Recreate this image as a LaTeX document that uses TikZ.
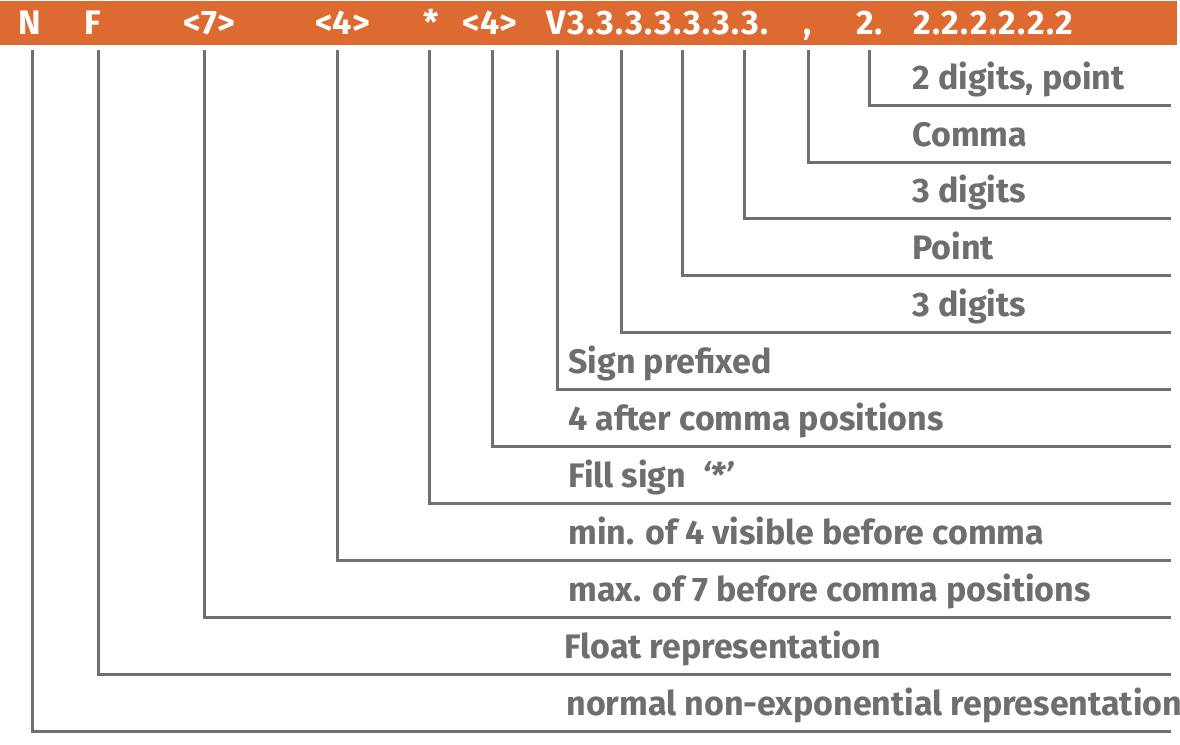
\documentclass[tikz,border=0pt]{standalone}
\usepackage{fontspec}
\setmainfont{Fira Sans}
\definecolor{barorange}{HTML}{DD6A31}
\definecolor{txtgray}{HTML}{6E6E6E}
\definecolor{lngray}{HTML}{707070}
\begin{document}
\begin{tikzpicture}[x=0.5pt,y=-0.5pt,
  bartxt/.style={text=white,font=\bfseries\fontsize{17}{19}\selectfont,inner sep=0pt,anchor=base},
  digtxt/.style={bartxt,anchor=base west,font=\bfseries\fontsize{17}{19}\selectfont\addfontfeature{LetterSpace=4}},
  lbl/.style={text=txtgray,font=\bfseries\fontsize{17}{19}\selectfont,inner sep=0pt,anchor=base west},
  conn/.style={draw=lngray,line width=1.5pt}]
\useasboundingbox (0,0) rectangle (1180,745);
\fill[barorange] (0,1) rectangle (1177,45);
% bar tokens
\node[bartxt] (tN) at (30,34) {N};
\node[bartxt] (tF) at (93,34) {F};
\node[bartxt] (t7) at (209.5,34) {<7>};
\node[bartxt] (t4a) at (342.5,34) {<4>};
\node[bartxt] (tStar) at (431.5,34) {*};
\node[bartxt] (t4b) at (490,34) {<4>};
\node[digtxt] (tV) at (546,34) {V3.3.3.3.3.3.3.};
\node[bartxt] (tComma) at (808,34) {,};
\node[bartxt] (t2) at (869.5,34) {2.};
\node[digtxt] (t22) at (913,34) {2.2.2.2.2.2};
% connector start points
\coordinate (sN) at (32,50);
\coordinate (sF) at (98,50);
\coordinate (s7) at (204,50);
\coordinate (s4a) at (337,50);
\coordinate (sStar) at (429,50);
\coordinate (s4b) at (492,50);
\coordinate (sV) at (557,50);
\coordinate (s3a) at (621,50);
\coordinate (sP) at (682,50);
\coordinate (s3b) at (744,50);
\coordinate (sC) at (808,50);
\coordinate (s2) at (869,50);
% connector end points
\coordinate (e2) at (1171,105);
\coordinate (eC) at (1171,162);
\coordinate (e3b) at (1171,218);
\coordinate (eP) at (1171,275);
\coordinate (e3a) at (1171,332);
\coordinate (eV) at (1171,389);
\coordinate (e4b) at (1171,446);
\coordinate (eStar) at (1171,503);
\coordinate (e4a) at (1171,560);
\coordinate (e7) at (1171,617);
\coordinate (eF) at (1171,674);
\coordinate (eN) at (1171,731);
\foreach \k in {2,C,3b,P,3a,V,4b,Star,4a,7,F,N}
  \draw[conn] (s\k) |- (e\k);
% labels
\node[lbl] (l2) at (912,89) {2 digits, point};
\node[lbl] (lC) at (912,146) {Comma};
\node[lbl] (l3b) at (912,202) {3 digits};
\node[lbl] (lP) at (912,259) {Point};
\node[lbl] (l3a) at (912,316) {3 digits};
\node[lbl] (lV) at (568,373) {Sign prefixed};
\node[lbl] (l4b) at (568,430) {4 after comma positions};
\node[lbl] (lStar) at (568,487) {Fill sign\ \ \textit{‘*’}};
\node[lbl] (l4a) at (568,544) {min. of 4 visible before comma};
\node[lbl] (l7) at (568,601) {max. of 7 before comma positions};
\node[lbl] (lF) at (564,658) {Float representation};
\node[lbl] (lN) at (566,715) {normal non-exponential representation};
\end{tikzpicture}
\end{document}
